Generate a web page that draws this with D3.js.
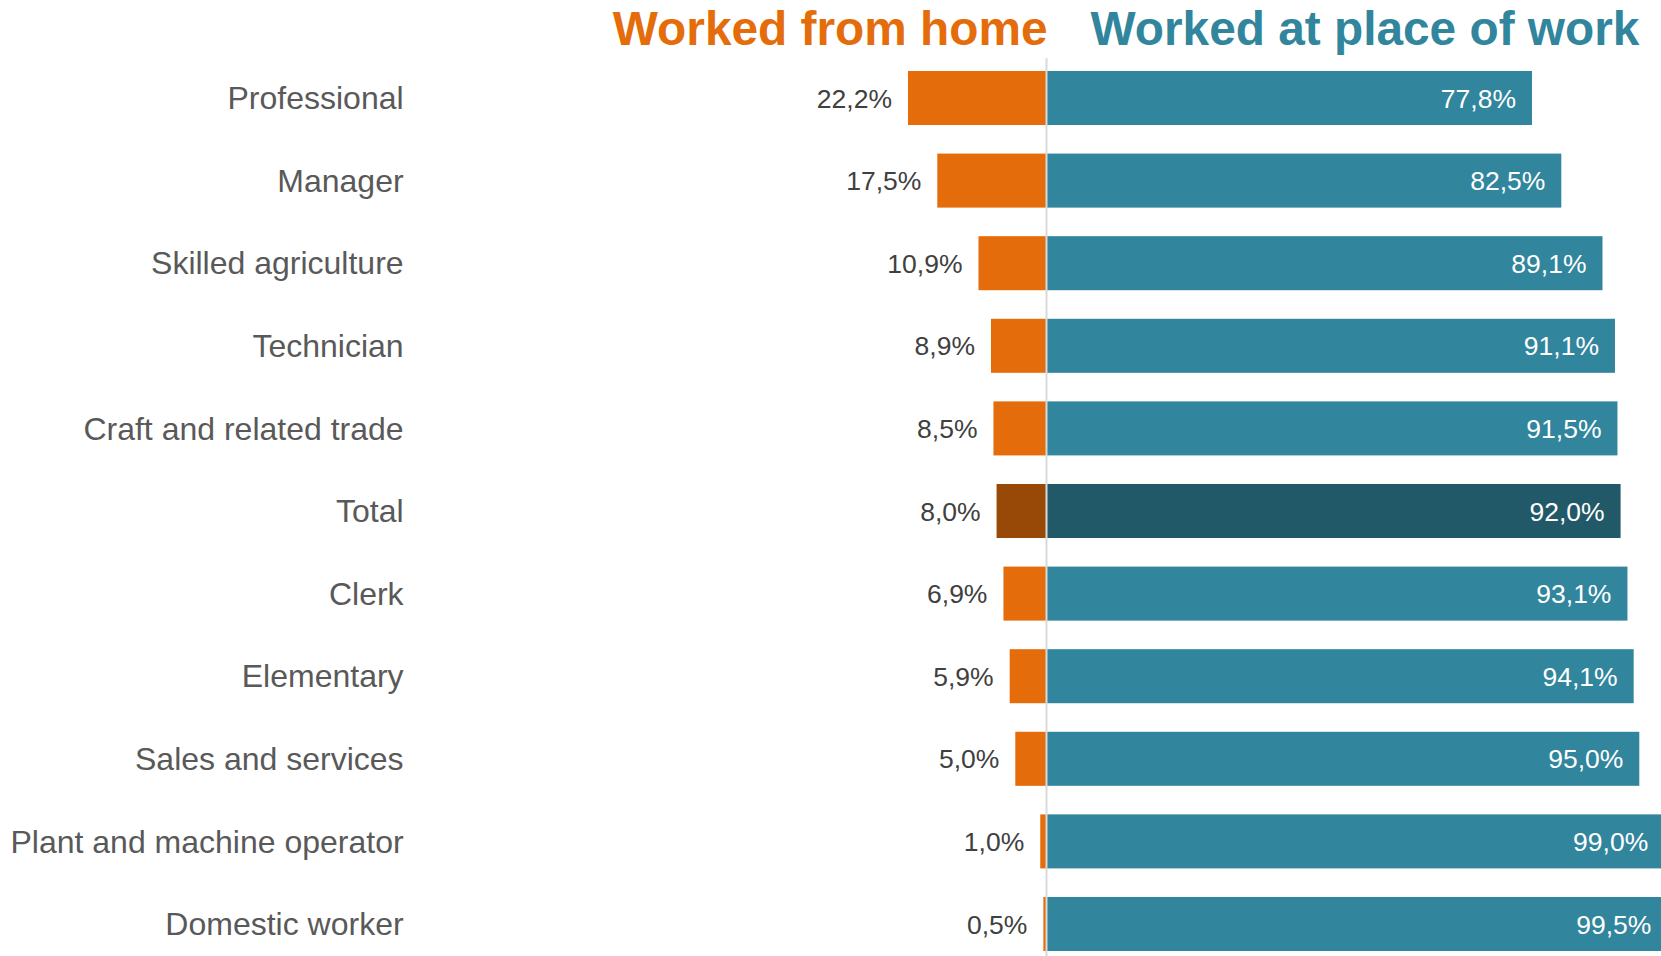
<!DOCTYPE html>
<html>
<head>
<meta charset="utf-8">
<script src="https://cdn.jsdelivr.net/npm/d3@7"></script>
<style>
  body { margin: 0; background: #fff; }
  text { font-family: "Liberation Sans", Arial, sans-serif; }
</style>
</head>
<body>
<svg id="chart-area"></svg>
<script>
// data
const categories = ["Professional", "Manager", "Skilled agriculture", "Technician", "Craft and related trade",
    "Total", "Clerk", "Elementary", "Sales and services", "Plant and machine operator", "Domestic worker"]
const fromHome = [22.2, 17.5, 10.9, 8.9, 8.5, 8.0, 6.9, 5.9, 5.0, 1.0, 0.5]
const atWork = [77.8, 82.5, 89.1, 91.1, 91.5, 92.0, 93.1, 94.1, 95.0, 99.0, 99.5]
const seriesNames = ["Worked from home", "Worked at place of work"]

function drawChart() {
    const width = 1661
    const height = 956
    const x0 = 1046.5

    const svg = d3.select("#chart-area")
        .attr("width", width)
        .attr("height", height)

    const rows = categories.map((c, i) => ({ name: c, home: fromHome[i], work: atWork[i], total: c === "Total" }))

    // one % = 6.24px
    const x = d3.scaleLinear().domain([0, 100]).range([0, 624])

    const y = d3.scaleBand()
        .domain(categories)
        .range([56.7, 56.7 + 82.6 * categories.length])
        .paddingInner(0.346)
        .paddingOuter(0.173)

    const fmt = v => d3.format(".1f")(v).replace(".", ",") + "%"

    const colors = {
        home: "#E46C0A", homeTotal: "#984807",
        work: "#31859C", workTotal: "#215968"
    }

    // orange bars (left)
    svg.selectAll(".home")
        .data(rows)
        .enter().append("rect")
        .attr("class", "home")
        .attr("x", d => x0 - x(d.home))
        .attr("y", d => y(d.name))
        .attr("width", d => x(d.home))
        .attr("height", y.bandwidth())
        .attr("fill", d => d.total ? colors.homeTotal : colors.home)

    // teal bars (right)
    svg.selectAll(".work")
        .data(rows)
        .enter().append("rect")
        .attr("class", "work")
        .attr("x", x0)
        .attr("y", d => y(d.name))
        .attr("width", d => x(d.work))
        .attr("height", y.bandwidth())
        .attr("fill", d => d.total ? colors.workTotal : colors.work)

    // zero line
    svg.append("line")
        .attr("x1", x0).attr("x2", x0)
        .attr("y1", 58).attr("y2", height)
        .attr("stroke", "#D9D9D9")
        .attr("stroke-width", 2)

    // category labels
    svg.selectAll(".cat")
        .data(rows)
        .enter().append("text")
        .attr("class", "cat")
        .attr("x", 403.6)
        .attr("y", d => y(d.name) + y.bandwidth() / 2)
        .attr("dy", "0.35em")
        .attr("text-anchor", "end")
        .attr("font-size", 32)
        .attr("fill", "#595959")
        .text(d => d.name)

    // value labels
    svg.selectAll(".homeLabel")
        .data(rows)
        .enter().append("text")
        .attr("class", "homeLabel")
        .attr("x", d => x0 - x(d.home) - 16)
        .attr("y", d => y(d.name) + y.bandwidth() / 2)
        .attr("dy", "0.36em")
        .attr("text-anchor", "end")
        .attr("font-size", 26.5)
        .attr("fill", "#404040")
        .text(d => fmt(d.home))

    svg.selectAll(".workLabel")
        .data(rows)
        .enter().append("text")
        .attr("class", "workLabel")
        .attr("x", d => x0 + x(d.work) - 16)
        .attr("y", d => y(d.name) + y.bandwidth() / 2)
        .attr("dy", "0.36em")
        .attr("text-anchor", "end")
        .attr("font-size", 26.5)
        .attr("fill", "#fff")
        .text(d => fmt(d.work))

    // headers
    svg.append("text")
        .attr("x", x0 + 1)
        .attr("y", 44.5)
        .attr("text-anchor", "end")
        .attr("font-size", 47.8)
        .attr("font-weight", "bold")
        .attr("fill", colors.home)
        .text(seriesNames[0])

    svg.append("text")
        .attr("x", x0 + 44)
        .attr("y", 44.5)
        .attr("font-size", 47.8)
        .attr("font-weight", "bold")
        .attr("fill", colors.work)
        .text(seriesNames[1])
}

drawChart()
</script>
</body>
</html>
